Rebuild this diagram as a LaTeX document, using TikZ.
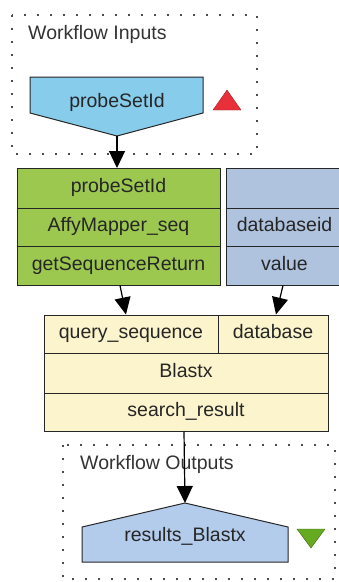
\documentclass[tikz,border=0pt]{standalone}
\usepackage{fontspec}
\setmainfont{Liberation Sans}
\usetikzlibrary{arrows.meta}
\definecolor{inblue}{RGB}{136,204,236}
\definecolor{procgreen}{RGB}{156,200,80}
\definecolor{procblue}{RGB}{175,195,223}
\definecolor{blastyellow}{RGB}{251,244,204}
\definecolor{outblue}{RGB}{180,204,236}
\definecolor{upred}{RGB}{232,48,58}
\definecolor{downgreen}{RGB}{102,170,34}
\tikzset{>={Triangle[width=16pt,length=17pt]},
  port/.style={draw=black!85,line width=1pt,inner sep=0pt,text height=13.5pt,text depth=4pt,
    font=\fontsize{19.5}{21}\selectfont,text=black!85},
  wfbox/.style={draw=black!70,line width=1.3pt,dash pattern=on 2pt off 11pt},
  wftitle/.style={anchor=west,inner sep=0pt,font=\fontsize{19.5}{21}\selectfont,text=black!80},
  link/.style={->,line width=1.2pt}}

\begin{document}
\begin{tikzpicture}[x=1pt,y=-1pt]
\useasboundingbox (0,0) rectangle (339,582);
\clip (0,0) rectangle (339,582);
% workflow inputs
\draw[wfbox] (12,15) rectangle (257,154);
\node[wftitle] (intitle) at (28,34) {Workflow Inputs};
\draw[port,fill=inblue] (30,77) -- (203,77) -- (203,113) -- (117,136) -- (30,113) -- cycle;
\node[port,draw=none] (inport) at (117,103) {probeSetId};
\coordinate (intip) at (117,136);
\draw[fill=upred,draw=upred!70!black] (227,90) -- (241,110) -- (213,110) -- cycle;
% AffyMapper
\node[port,fill=procgreen,minimum width=203,minimum height=40] (psid) at (118.5,188) {probeSetId};
\node[port,fill=procgreen,minimum width=203,minimum height=38] (affy) at (118.5,227) {AffyMapper\_seq};
\node[port,fill=procgreen,minimum width=203,minimum height=39] (getseq) at (118.5,265.5) {getSequenceReturn};
% database id
\node[port,fill=procblue,minimum width=117,minimum height=40] (dbtop) at (284.5,188) {};
\node[port,fill=procblue,minimum width=117,minimum height=38] (dbid) at (284.5,227) {databaseid};
\node[port,fill=procblue,minimum width=117,minimum height=39] (value) at (284.5,265.5) {value};
% Blastx
\node[port,fill=blastyellow,minimum width=174,minimum height=38] (query) at (131,334) {query\_sequence};
\node[port,fill=blastyellow,minimum width=110,minimum height=38] (dbase) at (273,334) {database};
\node[port,fill=blastyellow,minimum width=284,minimum height=40] (blastx) at (186,373) {Blastx};
\node[port,fill=blastyellow,minimum width=284,minimum height=38] (result) at (186,412) {search\_result};
% workflow outputs
\draw[wfbox] (63,445) rectangle (335,579);
\node[wftitle] (outtitle) at (80,464) {Workflow Outputs};
\draw[port,fill=outblue] (82,527) -- (185,503) -- (288,527) -- (288,562) -- (82,562) -- cycle;
\node[port,draw=none] (outport) at (185,537) {results\_Blastx};
\coordinate (outtop) at (185,503);
\draw[fill=downgreen,draw=downgreen!60!black] (297,529) -- (325,529) -- (311,548) -- cycle;
% links
\draw[link] (intip) -- (117,168);
\draw[link] ([xshift=1.5pt]getseq.south) -- ([xshift=-5pt]query.north);
\draw[link] ([xshift=-1.5pt]value.south) -- ([xshift=3pt]dbase.north);
\draw[link] ([xshift=-2pt]result.south) -- (outtop);
\end{tikzpicture}
\end{document}
